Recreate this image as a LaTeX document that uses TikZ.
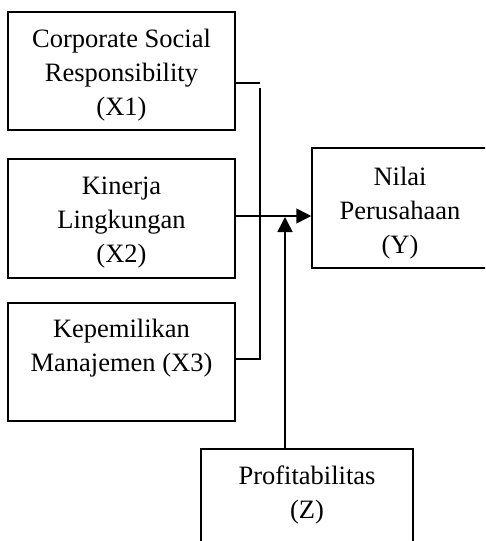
\documentclass[tikz,border=0pt]{standalone}
\usepackage{fontspec}
\setmainfont{Liberation Serif}
\usetikzlibrary{arrows.meta}
\begin{document}
\begin{tikzpicture}[x=1pt,y=-1pt,
  box/.style={draw,line width=1.5pt,rectangle,inner sep=0pt},
  txt/.style={align=center,inner sep=0pt,font=\fontsize{26.5}{34}\selectfont},
  conn/.style={line width=1.5pt},
  arr/.style={line width=1.5pt,-{Triangle[length=15pt,width=15pt]}}]
\useasboundingbox (0,0) rectangle (485,541);
\clip (0,0) rectangle (485,541);
% boxes
\node[box,minimum width=227pt,minimum height=118pt] (x1) at (121.5,71) {};
\node[box,minimum width=227pt,minimum height=119pt] (x2) at (121.5,218.5) {};
\node[box,minimum width=227pt,minimum height=118pt] (x3) at (121.5,362) {};
\node[box,minimum width=176pt,minimum height=120pt] (ny) at (400,208) {};
\node[box,minimum width=212pt,minimum height=120pt] (z) at (307,509) {};
% texts
\node[txt] (t1) at (121.5,75) {Corporate Social\\Responsibility\\(X1)};
\node[txt] (t2) at (121.5,223) {Kinerja\\Lingkungan\\(X2)};
\node[txt] (t3) at (121.5,348) {Kepemilikan\\Manajemen (X3)};
\node[txt] (ty) at (400,213) {Nilai\\Perusahaan\\(Y)};
\node[txt] (tz) at (307,495) {Profitabilitas\\(Z)};
% connectors
\coordinate (j1) at (260,83);
\coordinate (b1) at (260,88);
\coordinate (j3) at (260,359);
\coordinate (h2) at (0,216);
\coordinate (v) at (285,217);
\draw[conn] (x1.east |- j1) -- (j1);
\draw[conn] (b1) -- (j3) -- (x3.east |- j3);
\draw[arr] (x2.east |- h2) -- (ny.west |- h2);
\draw[arr] (z.north -| v) -- (v);
\end{tikzpicture}
\end{document}
